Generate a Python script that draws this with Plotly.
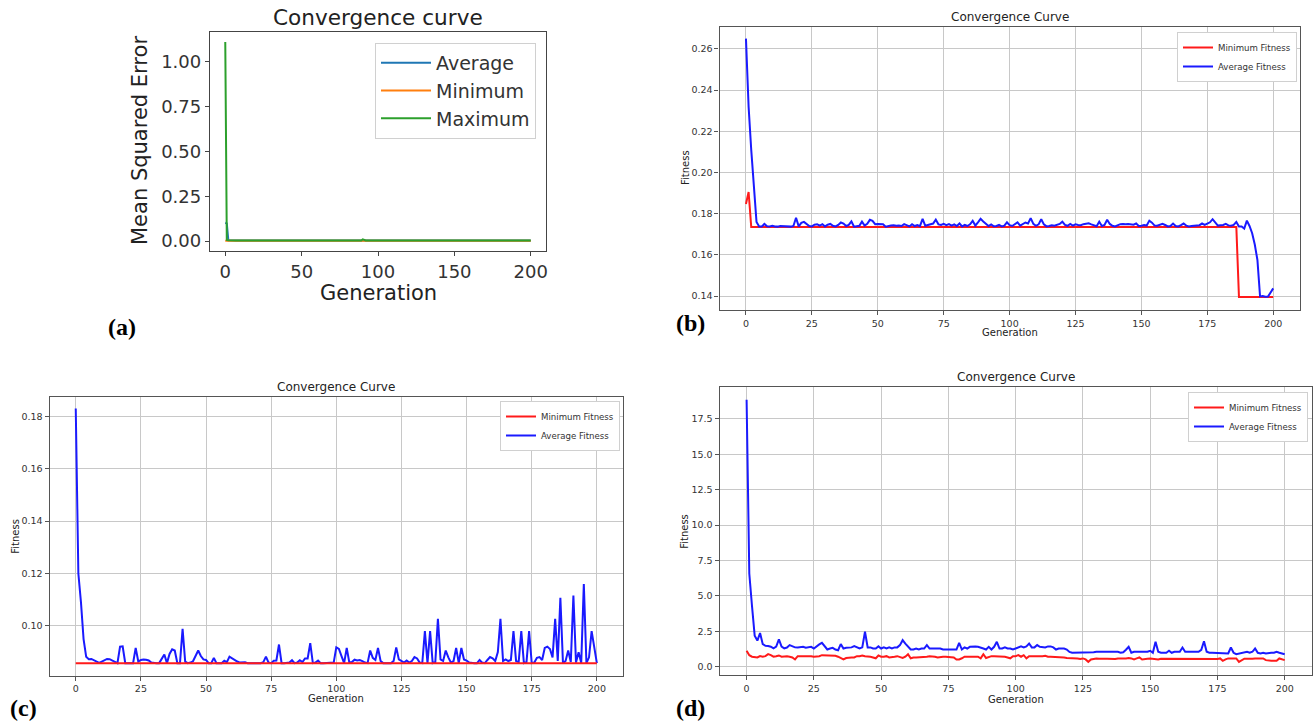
import plotly.graph_objects as go

W, H = 1314, 722
generations = list(range(201))

# ---------------- panel (a) : MSE convergence ----------------
a_avg = [
    0.102, 0.098, 0.004, 0.003, 0.003, 0.003, 0.003, 0.003, 0.003, 0.003,
    0.003, 0.003, 0.003, 0.003, 0.003, 0.003, 0.003, 0.003, 0.003, 0.003,
    0.003, 0.003, 0.003, 0.003, 0.003, 0.003, 0.003, 0.003, 0.003, 0.003,
    0.003, 0.003, 0.003, 0.003, 0.003, 0.003, 0.003, 0.003, 0.003, 0.003,
    0.003, 0.003, 0.003, 0.003, 0.003, 0.003, 0.003, 0.003, 0.003, 0.003,
    0.003, 0.003, 0.003, 0.003, 0.003, 0.003, 0.003, 0.003, 0.003, 0.003,
    0.003, 0.003, 0.003, 0.003, 0.003, 0.003, 0.003, 0.003, 0.003, 0.003,
    0.003, 0.003, 0.003, 0.003, 0.003, 0.003, 0.003, 0.003, 0.003, 0.003,
    0.003, 0.003, 0.003, 0.003, 0.003, 0.003, 0.003, 0.003, 0.003, 0.003,
    0.004, 0.003, 0.003, 0.003, 0.003, 0.003, 0.003, 0.003, 0.003, 0.004,
    0.003, 0.003, 0.003, 0.003, 0.003, 0.003, 0.003, 0.003, 0.003, 0.003,
    0.003, 0.003, 0.003, 0.003, 0.003, 0.003, 0.003, 0.003, 0.003, 0.003,
    0.003, 0.003, 0.003, 0.003, 0.003, 0.003, 0.003, 0.003, 0.003, 0.003,
    0.003, 0.003, 0.003, 0.003, 0.003, 0.003, 0.003, 0.003, 0.003, 0.003,
    0.003, 0.003, 0.003, 0.003, 0.003, 0.003, 0.003, 0.003, 0.003, 0.003,
    0.003, 0.003, 0.003, 0.003, 0.003, 0.003, 0.003, 0.003, 0.003, 0.003,
    0.003, 0.003, 0.003, 0.003, 0.003, 0.003, 0.003, 0.003, 0.003, 0.003,
    0.003, 0.003, 0.003, 0.003, 0.003, 0.003, 0.003, 0.003, 0.003, 0.003,
    0.003, 0.003, 0.003, 0.003, 0.003, 0.003, 0.003, 0.003, 0.003, 0.003,
    0.003, 0.003, 0.003, 0.003, 0.003, 0.003, 0.003, 0.003, 0.003, 0.003,
    0.003,
]
a_min = [
    0.001, 0.001, 0.001, 0.001, 0.001, 0.001, 0.001, 0.001, 0.001, 0.001,
    0.001, 0.001, 0.001, 0.001, 0.001, 0.001, 0.001, 0.001, 0.001, 0.001,
    0.001, 0.001, 0.001, 0.001, 0.001, 0.001, 0.001, 0.001, 0.001, 0.001,
    0.001, 0.001, 0.001, 0.001, 0.001, 0.001, 0.001, 0.001, 0.001, 0.001,
    0.001, 0.001, 0.001, 0.001, 0.001, 0.001, 0.001, 0.001, 0.001, 0.001,
    0.001, 0.001, 0.001, 0.001, 0.001, 0.001, 0.001, 0.001, 0.001, 0.001,
    0.001, 0.001, 0.001, 0.001, 0.001, 0.001, 0.001, 0.001, 0.001, 0.001,
    0.001, 0.001, 0.001, 0.001, 0.001, 0.001, 0.001, 0.001, 0.001, 0.001,
    0.001, 0.001, 0.001, 0.001, 0.001, 0.001, 0.001, 0.001, 0.001, 0.001,
    0.001, 0.001, 0.001, 0.001, 0.001, 0.001, 0.001, 0.001, 0.001, 0.001,
    0.001, 0.001, 0.001, 0.001, 0.001, 0.001, 0.001, 0.001, 0.001, 0.001,
    0.001, 0.001, 0.001, 0.001, 0.001, 0.001, 0.001, 0.001, 0.001, 0.001,
    0.001, 0.001, 0.001, 0.001, 0.001, 0.001, 0.001, 0.001, 0.001, 0.001,
    0.001, 0.001, 0.001, 0.001, 0.001, 0.001, 0.001, 0.001, 0.001, 0.001,
    0.001, 0.001, 0.001, 0.001, 0.001, 0.001, 0.001, 0.001, 0.001, 0.001,
    0.001, 0.001, 0.001, 0.001, 0.001, 0.001, 0.001, 0.001, 0.001, 0.001,
    0.001, 0.001, 0.001, 0.001, 0.001, 0.001, 0.001, 0.001, 0.001, 0.001,
    0.001, 0.001, 0.001, 0.001, 0.001, 0.001, 0.001, 0.001, 0.001, 0.001,
    0.001, 0.001, 0.001, 0.001, 0.001, 0.001, 0.001, 0.001, 0.001, 0.001,
    0.001, 0.001, 0.001, 0.001, 0.001, 0.001, 0.001, 0.001, 0.001, 0.001,
    0.001,
]
a_max = [
    1.110, 0.006, 0.004, 0.003, 0.003, 0.003, 0.003, 0.003, 0.003, 0.003,
    0.003, 0.003, 0.003, 0.003, 0.003, 0.003, 0.003, 0.003, 0.003, 0.003,
    0.003, 0.003, 0.003, 0.003, 0.003, 0.003, 0.003, 0.003, 0.003, 0.003,
    0.003, 0.003, 0.003, 0.003, 0.003, 0.003, 0.003, 0.003, 0.003, 0.003,
    0.003, 0.003, 0.003, 0.003, 0.003, 0.003, 0.003, 0.003, 0.003, 0.003,
    0.003, 0.003, 0.003, 0.003, 0.003, 0.003, 0.003, 0.003, 0.003, 0.003,
    0.003, 0.003, 0.003, 0.003, 0.003, 0.003, 0.003, 0.003, 0.003, 0.003,
    0.003, 0.003, 0.003, 0.003, 0.003, 0.003, 0.003, 0.003, 0.003, 0.003,
    0.003, 0.003, 0.003, 0.003, 0.003, 0.003, 0.003, 0.003, 0.003, 0.003,
    0.009, 0.004, 0.003, 0.003, 0.003, 0.003, 0.003, 0.003, 0.003, 0.007,
    0.003, 0.003, 0.003, 0.003, 0.003, 0.003, 0.003, 0.003, 0.003, 0.003,
    0.003, 0.003, 0.003, 0.003, 0.003, 0.003, 0.003, 0.003, 0.003, 0.003,
    0.003, 0.003, 0.003, 0.003, 0.003, 0.003, 0.003, 0.003, 0.003, 0.003,
    0.003, 0.003, 0.003, 0.003, 0.003, 0.003, 0.003, 0.003, 0.003, 0.003,
    0.003, 0.003, 0.003, 0.003, 0.003, 0.003, 0.003, 0.003, 0.003, 0.003,
    0.003, 0.003, 0.003, 0.003, 0.003, 0.003, 0.003, 0.003, 0.003, 0.003,
    0.003, 0.003, 0.003, 0.003, 0.003, 0.003, 0.003, 0.003, 0.003, 0.003,
    0.003, 0.003, 0.003, 0.003, 0.003, 0.003, 0.003, 0.003, 0.003, 0.003,
    0.003, 0.003, 0.003, 0.003, 0.003, 0.003, 0.003, 0.003, 0.003, 0.003,
    0.003, 0.003, 0.003, 0.003, 0.003, 0.003, 0.003, 0.003, 0.003, 0.003,
    0.003,
]

# ---------------- panel (b) ----------------
b_min = [
    0.1847, 0.1905, 0.1735, 0.1735, 0.1735, 0.1735, 0.1735, 0.1735, 0.1735, 0.1735,
    0.1735, 0.1735, 0.1735, 0.1735, 0.1735, 0.1735, 0.1735, 0.1735, 0.1735, 0.1735,
    0.1735, 0.1735, 0.1735, 0.1735, 0.1735, 0.1735, 0.1735, 0.1735, 0.1735, 0.1735,
    0.1735, 0.1735, 0.1735, 0.1735, 0.1735, 0.1735, 0.1735, 0.1735, 0.1735, 0.1735,
    0.1735, 0.1735, 0.1735, 0.1735, 0.1735, 0.1735, 0.1735, 0.1735, 0.1735, 0.1735,
    0.1735, 0.1735, 0.1735, 0.1735, 0.1735, 0.1735, 0.1735, 0.1735, 0.1735, 0.1735,
    0.1735, 0.1735, 0.1735, 0.1735, 0.1735, 0.1735, 0.1735, 0.1735, 0.1735, 0.1735,
    0.1735, 0.1735, 0.1735, 0.1735, 0.1735, 0.1735, 0.1735, 0.1735, 0.1735, 0.1735,
    0.1735, 0.1735, 0.1735, 0.1735, 0.1735, 0.1735, 0.1735, 0.1735, 0.1735, 0.1735,
    0.1735, 0.1735, 0.1735, 0.1735, 0.1735, 0.1735, 0.1735, 0.1735, 0.1735, 0.1735,
    0.1735, 0.1735, 0.1735, 0.1735, 0.1735, 0.1735, 0.1735, 0.1735, 0.1735, 0.1735,
    0.1735, 0.1735, 0.1735, 0.1735, 0.1735, 0.1735, 0.1735, 0.1735, 0.1735, 0.1735,
    0.1735, 0.1735, 0.1735, 0.1735, 0.1735, 0.1735, 0.1735, 0.1735, 0.1735, 0.1735,
    0.1735, 0.1735, 0.1735, 0.1735, 0.1735, 0.1735, 0.1735, 0.1735, 0.1735, 0.1735,
    0.1735, 0.1735, 0.1735, 0.1735, 0.1735, 0.1735, 0.1735, 0.1735, 0.1735, 0.1735,
    0.1735, 0.1735, 0.1735, 0.1735, 0.1735, 0.1735, 0.1735, 0.1735, 0.1735, 0.1735,
    0.1735, 0.1735, 0.1735, 0.1735, 0.1735, 0.1735, 0.1735, 0.1735, 0.1735, 0.1735,
    0.1735, 0.1735, 0.1735, 0.1735, 0.1735, 0.1735, 0.1735, 0.1735, 0.1735, 0.1735,
    0.1735, 0.1735, 0.1735, 0.1735, 0.1735, 0.1735, 0.1735, 0.1395, 0.1395, 0.1395,
    0.1395, 0.1395, 0.1395, 0.1395, 0.1395, 0.1395, 0.1395, 0.1395, 0.1395, 0.1395,
    0.1395,
]
b_avg = [
    0.2650, 0.2320, 0.2110, 0.1920, 0.1760, 0.1738, 0.1738, 0.1750, 0.1739, 0.1738,
    0.1741, 0.1738, 0.1737, 0.1740, 0.1739, 0.1741, 0.1738, 0.1737, 0.1740, 0.1780,
    0.1738, 0.1755, 0.1760, 0.1752, 0.1740, 0.1738, 0.1746, 0.1748, 0.1742, 0.1749,
    0.1738, 0.1746, 0.1750, 0.1741, 0.1738, 0.1745, 0.1757, 0.1752, 0.1740, 0.1745,
    0.1762, 0.1737, 0.1738, 0.1741, 0.1761, 0.1742, 0.1751, 0.1770, 0.1765, 0.1749,
    0.1750, 0.1748, 0.1749, 0.1737, 0.1738, 0.1742, 0.1744, 0.1741, 0.1742, 0.1740,
    0.1749, 0.1745, 0.1738, 0.1749, 0.1740, 0.1745, 0.1739, 0.1775, 0.1741, 0.1745,
    0.1748, 0.1752, 0.1771, 0.1748, 0.1745, 0.1750, 0.1744, 0.1749, 0.1742, 0.1748,
    0.1740, 0.1752, 0.1738, 0.1745, 0.1740, 0.1748, 0.1765, 0.1742, 0.1758, 0.1775,
    0.1762, 0.1749, 0.1740, 0.1748, 0.1739, 0.1740, 0.1745, 0.1738, 0.1742, 0.1758,
    0.1744, 0.1740, 0.1750, 0.1758, 0.1742, 0.1748, 0.1757, 0.1752, 0.1778, 0.1750,
    0.1741, 0.1748, 0.1773, 0.1748, 0.1738, 0.1740, 0.1743, 0.1741, 0.1745, 0.1750,
    0.1761, 0.1745, 0.1741, 0.1750, 0.1742, 0.1748, 0.1745, 0.1744, 0.1749, 0.1750,
    0.1753, 0.1748, 0.1742, 0.1739, 0.1761, 0.1740, 0.1745, 0.1770, 0.1750, 0.1741,
    0.1738, 0.1745, 0.1749, 0.1750, 0.1748, 0.1750, 0.1747, 0.1746, 0.1752, 0.1740,
    0.1741, 0.1745, 0.1742, 0.1766, 0.1756, 0.1742, 0.1741, 0.1745, 0.1751, 0.1745,
    0.1738, 0.1740, 0.1752, 0.1740, 0.1738, 0.1744, 0.1752, 0.1742, 0.1738, 0.1740,
    0.1741, 0.1740, 0.1744, 0.1752, 0.1745, 0.1752, 0.1758, 0.1773, 0.1755, 0.1742,
    0.1744, 0.1745, 0.1750, 0.1743, 0.1741, 0.1745, 0.1760, 0.1738, 0.1738, 0.1728,
    0.1766, 0.1740, 0.1705, 0.1650, 0.1575, 0.1398, 0.1400, 0.1396, 0.1397, 0.1418,
    0.1437,
]

# ---------------- panel (c) ----------------
c_min = [
    0.0858, 0.0858, 0.0858, 0.0858, 0.0858, 0.0858, 0.0858, 0.0858, 0.0858, 0.0858,
    0.0858, 0.0858, 0.0858, 0.0858, 0.0858, 0.0858, 0.0858, 0.0858, 0.0858, 0.0858,
    0.0858, 0.0858, 0.0858, 0.0858, 0.0858, 0.0858, 0.0858, 0.0858, 0.0858, 0.0858,
    0.0858, 0.0858, 0.0858, 0.0858, 0.0858, 0.0858, 0.0858, 0.0858, 0.0858, 0.0858,
    0.0858, 0.0858, 0.0858, 0.0858, 0.0858, 0.0858, 0.0858, 0.0858, 0.0858, 0.0858,
    0.0858, 0.0858, 0.0858, 0.0858, 0.0858, 0.0858, 0.0858, 0.0858, 0.0858, 0.0858,
    0.0858, 0.0858, 0.0858, 0.0858, 0.0858, 0.0858, 0.0858, 0.0858, 0.0858, 0.0858,
    0.0858, 0.0858, 0.0858, 0.0858, 0.0858, 0.0858, 0.0858, 0.0858, 0.0858, 0.0858,
    0.0858, 0.0858, 0.0858, 0.0858, 0.0858, 0.0858, 0.0858, 0.0858, 0.0858, 0.0858,
    0.0858, 0.0858, 0.0858, 0.0858, 0.0858, 0.0858, 0.0858, 0.0858, 0.0858, 0.0858,
    0.0858, 0.0858, 0.0858, 0.0858, 0.0858, 0.0858, 0.0858, 0.0858, 0.0858, 0.0858,
    0.0858, 0.0858, 0.0858, 0.0858, 0.0858, 0.0858, 0.0858, 0.0858, 0.0858, 0.0858,
    0.0858, 0.0858, 0.0858, 0.0858, 0.0858, 0.0858, 0.0858, 0.0858, 0.0858, 0.0858,
    0.0858, 0.0858, 0.0858, 0.0858, 0.0858, 0.0858, 0.0858, 0.0858, 0.0858, 0.0858,
    0.0858, 0.0858, 0.0858, 0.0858, 0.0858, 0.0858, 0.0858, 0.0858, 0.0858, 0.0858,
    0.0858, 0.0858, 0.0858, 0.0858, 0.0858, 0.0858, 0.0858, 0.0858, 0.0858, 0.0858,
    0.0858, 0.0858, 0.0858, 0.0858, 0.0858, 0.0858, 0.0858, 0.0858, 0.0858, 0.0858,
    0.0858, 0.0858, 0.0858, 0.0858, 0.0858, 0.0858, 0.0858, 0.0858, 0.0858, 0.0858,
    0.0858, 0.0858, 0.0858, 0.0858, 0.0858, 0.0858, 0.0858, 0.0858, 0.0858, 0.0858,
    0.0858, 0.0858, 0.0858, 0.0858, 0.0858, 0.0858, 0.0858, 0.0858, 0.0858, 0.0858,
    0.0858,
]
c_avg = [
    0.1830, 0.1200, 0.1090, 0.0950, 0.0882, 0.0873, 0.0874, 0.0868, 0.0862, 0.0859,
    0.0864, 0.0870, 0.0874, 0.0873, 0.0868, 0.0860, 0.0858, 0.0921, 0.0922, 0.0858,
    0.0858, 0.0858, 0.0858, 0.0916, 0.0864, 0.0870, 0.0872, 0.0871, 0.0868, 0.0860,
    0.0858, 0.0858, 0.0858, 0.0873, 0.0891, 0.0858, 0.0893, 0.0911, 0.0906, 0.0858,
    0.0858, 0.0989, 0.0864, 0.0858, 0.0860, 0.0865, 0.0887, 0.0906, 0.0885, 0.0872,
    0.0870, 0.0858, 0.0858, 0.0878, 0.0858, 0.0858, 0.0858, 0.0867, 0.0862, 0.0883,
    0.0876, 0.0870, 0.0864, 0.0860, 0.0861, 0.0861, 0.0858, 0.0858, 0.0858, 0.0858,
    0.0858, 0.0858, 0.0862, 0.0883, 0.0860, 0.0858, 0.0867, 0.0868, 0.0929, 0.0858,
    0.0858, 0.0858, 0.0860, 0.0869, 0.0858, 0.0860, 0.0869, 0.0862, 0.0876, 0.0876,
    0.0934, 0.0858, 0.0860, 0.0868, 0.0858, 0.0858, 0.0858, 0.0858, 0.0858, 0.0860,
    0.0918, 0.0912, 0.0885, 0.0858, 0.0916, 0.0860, 0.0862, 0.0871, 0.0868, 0.0870,
    0.0866, 0.0860, 0.0858, 0.0906, 0.0878, 0.0870, 0.0916, 0.0866, 0.0858, 0.0858,
    0.0860, 0.0858, 0.0866, 0.0918, 0.0872, 0.0866, 0.0860, 0.0868, 0.0860, 0.0866,
    0.0881, 0.0876, 0.0860, 0.0858, 0.0980, 0.0858, 0.0980, 0.0858, 0.0862, 0.1027,
    0.0872, 0.0866, 0.0906, 0.0880, 0.0860, 0.0866, 0.0916, 0.0858, 0.0916, 0.0872,
    0.0868, 0.0860, 0.0858, 0.0858, 0.0858, 0.0870, 0.0860, 0.0858, 0.0870, 0.0881,
    0.0876, 0.0866, 0.0900, 0.1027, 0.0866, 0.0872, 0.0866, 0.0870, 0.0980, 0.0866,
    0.0862, 0.0980, 0.0858, 0.0862, 0.0980, 0.0858, 0.0860, 0.0878, 0.0881, 0.0870,
    0.0916, 0.0921, 0.0912, 0.0880, 0.1027, 0.0866, 0.1107, 0.0858, 0.0866, 0.0906,
    0.0862, 0.1116, 0.0860, 0.0900, 0.0858, 0.1160, 0.0858, 0.0880, 0.0980, 0.0920,
    0.0858,
]

# ---------------- panel (d) ----------------
d_min = [
    1.13, 0.82, 0.71, 0.71, 0.66, 0.76, 0.71, 0.75, 0.89, 0.82,
    0.71, 0.75, 0.80, 0.71, 0.75, 0.75, 0.71, 0.66, 0.52, 0.75,
    0.75, 0.75, 0.78, 0.75, 0.75, 0.71, 0.71, 0.75, 0.82, 0.82,
    0.82, 0.82, 0.82, 0.78, 0.71, 0.60, 0.52, 0.62, 0.66, 0.66,
    0.66, 0.75, 0.75, 0.80, 0.75, 0.75, 0.71, 0.66, 0.60, 0.80,
    0.71, 0.71, 0.75, 0.66, 0.71, 0.71, 0.75, 0.66, 0.62, 0.71,
    0.89, 0.60, 0.66, 0.66, 0.66, 0.66, 0.66, 0.71, 0.75, 0.75,
    0.71, 0.66, 0.71, 0.71, 0.71, 0.71, 0.71, 0.66, 0.52, 0.52,
    0.60, 0.71, 0.71, 0.71, 0.71, 0.66, 0.71, 0.60, 0.89, 0.62,
    0.71, 0.75, 0.75, 0.75, 0.75, 0.75, 0.71, 0.66, 0.60, 0.75,
    0.75, 0.82, 0.71, 0.82, 0.60, 0.75, 0.75, 0.75, 0.71, 0.75,
    0.75, 0.78, 0.71, 0.71, 0.71, 0.71, 0.71, 0.71, 0.66, 0.62,
    0.62, 0.62, 0.59, 0.59, 0.55, 0.59, 0.52, 0.35, 0.52, 0.57,
    0.59, 0.57, 0.59, 0.57, 0.57, 0.57, 0.52, 0.55, 0.59, 0.57,
    0.59, 0.59, 0.62, 0.59, 0.52, 0.59, 0.66, 0.52, 0.57, 0.57,
    0.59, 0.57, 0.52, 0.52, 0.57, 0.57, 0.52, 0.52, 0.52, 0.52,
    0.55, 0.52, 0.52, 0.52, 0.52, 0.52, 0.52, 0.52, 0.52, 0.52,
    0.52, 0.52, 0.52, 0.55, 0.52, 0.55, 0.59, 0.42, 0.52, 0.59,
    0.59, 0.57, 0.59, 0.35, 0.47, 0.57, 0.57, 0.55, 0.57, 0.59,
    0.59, 0.57, 0.59, 0.47, 0.42, 0.42, 0.42, 0.42, 0.59, 0.52,
    0.47,
]
d_avg = [
    18.84, 6.58, 4.30, 2.20, 1.85, 2.38, 1.60, 1.48, 1.47, 1.42,
    1.30, 1.42, 1.93, 1.42, 1.30, 1.36, 1.53, 1.45, 1.37, 1.36,
    1.37, 1.41, 1.34, 1.37, 1.41, 1.29, 1.45, 1.58, 1.69, 1.41,
    1.22, 1.29, 1.34, 1.22, 1.17, 1.60, 1.29, 1.34, 1.34, 1.37,
    1.46, 1.37, 1.29, 1.37, 2.47, 1.37, 1.37, 1.29, 1.29, 1.44,
    1.29, 1.37, 1.29, 1.37, 1.29, 1.37, 1.37, 1.53, 1.88, 1.64,
    1.44, 1.22, 1.22, 1.29, 1.22, 1.29, 1.29, 1.53, 1.29, 1.29,
    1.29, 1.29, 1.29, 1.22, 1.22, 1.22, 1.22, 1.22, 1.22, 1.69,
    1.22, 1.37, 1.29, 1.41, 1.44, 1.44, 1.41, 1.37, 1.29, 1.22,
    1.41, 1.22, 1.41, 1.76, 1.29, 1.29, 1.37, 1.29, 1.29, 1.22,
    1.29, 1.37, 1.44, 1.37, 1.44, 1.64, 1.37, 1.37, 1.53, 1.41,
    1.41, 1.37, 1.44, 1.44, 1.37, 1.22, 1.29, 1.29, 1.29, 1.22,
    1.05, 0.99, 0.99, 0.99, 0.99, 0.99, 0.99, 1.00, 1.02, 1.02,
    1.06, 1.06, 1.06, 1.08, 1.06, 1.06, 1.10, 1.08, 1.06, 1.00,
    1.02, 1.20, 1.41, 0.99, 1.06, 1.06, 1.06, 1.06, 1.06, 1.06,
    1.13, 0.99, 1.76, 1.06, 0.99, 0.99, 0.99, 1.13, 0.99, 1.06,
    1.06, 1.06, 1.36, 1.06, 1.06, 1.06, 1.06, 1.06, 1.06, 1.20,
    1.80, 1.06, 0.99, 0.99, 0.99, 0.99, 0.99, 0.99, 0.99, 0.94,
    1.36, 0.99, 0.89, 0.94, 0.99, 1.06, 1.06, 0.99, 1.06, 1.29,
    0.99, 0.94, 0.99, 0.94, 0.99, 0.99, 0.99, 1.06, 0.99, 0.94,
    0.89,
]

# tick labels
a_xticks = [0, 50, 100, 150, 200]
a_yticks = [0.0, 0.25, 0.5, 0.75, 1.0]
bcd_xticks = [0, 25, 50, 75, 100, 125, 150, 175, 200]
b_yticks = [0.14, 0.16, 0.18, 0.20, 0.22, 0.24, 0.26]
c_yticks = [0.10, 0.12, 0.14, 0.16, 0.18]
d_yticks = [0.0, 2.5, 5.0, 7.5, 10.0, 12.5, 15.0, 17.5]

FONT = "DejaVu Sans, Verdana, sans-serif"
SERIF = "Liberation Serif, Times New Roman, serif"


def fx(p):
    return p / W


def fy(p):
    return 1 - p / H


fig = go.Figure()

# panel (a)
fig.add_trace(go.Scatter(x=generations, y=a_avg, name="Average", mode="lines",
                         line=dict(color="#1f77b4", width=2), xaxis="x", yaxis="y", legend="legend"))
fig.add_trace(go.Scatter(x=generations, y=a_min, name="Minimum", mode="lines",
                         line=dict(color="#ff7f0e", width=2), xaxis="x", yaxis="y", legend="legend"))
fig.add_trace(go.Scatter(x=generations, y=a_max, name="Maximum", mode="lines",
                         line=dict(color="#2ca02c", width=2), xaxis="x", yaxis="y", legend="legend"))
# panel (b)
fig.add_trace(go.Scatter(x=generations, y=b_min, name="Minimum Fitness", mode="lines",
                         line=dict(color="#ff1a1a", width=2), xaxis="x2", yaxis="y2", legend="legend2"))
fig.add_trace(go.Scatter(x=generations, y=b_avg, name="Average Fitness", mode="lines",
                         line=dict(color="#1a1aff", width=2), xaxis="x2", yaxis="y2", legend="legend2"))
# panel (c)  (average drawn first so the flat minimum stays visible)
fig.add_trace(go.Scatter(x=generations, y=c_avg, name="Average Fitness", mode="lines",
                         line=dict(color="#1a1aff", width=2), xaxis="x3", yaxis="y3", legend="legend3",
                         legendrank=2))
fig.add_trace(go.Scatter(x=generations, y=c_min, name="Minimum Fitness", mode="lines",
                         line=dict(color="#ff1a1a", width=2), xaxis="x3", yaxis="y3", legend="legend3",
                         legendrank=1))
# panel (d)
fig.add_trace(go.Scatter(x=generations, y=d_min, name="Minimum Fitness", mode="lines",
                         line=dict(color="#ff1a1a", width=2), xaxis="x4", yaxis="y4", legend="legend4"))
fig.add_trace(go.Scatter(x=generations, y=d_avg, name="Average Fitness", mode="lines",
                         line=dict(color="#1a1aff", width=2), xaxis="x4", yaxis="y4", legend="legend4"))


def axis(domain, rng, ticks, fmt, size, grid, anchor, linecolor):
    return dict(domain=domain, range=rng, tickvals=ticks, tickformat=fmt, anchor=anchor,
                showgrid=grid, gridcolor="#c8c8c8", gridwidth=1.2, zeroline=False,
                showline=True, mirror=True, linecolor=linecolor, linewidth=1.3,
                ticks="outside", ticklen=4, tickwidth=1, tickcolor=linecolor,
                tickfont=dict(family=FONT, size=size, color="#333333"))


layout = dict(
    template="none",
    width=W, height=H, autosize=False,
    margin=dict(l=0, r=0, t=0, b=0, pad=0),
    paper_bgcolor="white", plot_bgcolor="white",
    xaxis=axis([fx(210), fx(546)], [-10, 210], a_xticks, "d", 18, False, "y", "#444444"),
    yaxis=axis([fy(251), fy(32)], [-0.0555, 1.1655], a_yticks, ".2f", 18, False, "x", "#444444"),
    xaxis2=axis([fx(719.6), fx(1299.6)], [-10, 210], bcd_xticks, "d", 9.5, True, "y2", "#555555"),
    yaxis2=axis([fy(310), fy(26.7)], [0.1332, 0.2708], b_yticks, ".2f", 9.5, True, "x2", "#555555"),
    xaxis3=axis([fx(49.7), fx(622.9)], [-10, 210], bcd_xticks, "d", 9.5, True, "y3", "#555555"),
    yaxis3=axis([fy(675.7), fy(396.7)], [0.0810, 0.1875], c_yticks, ".2f", 9.5, True, "x3", "#555555"),
    xaxis4=axis([fx(719.7), fx(1311.6)], [-10, 210], bcd_xticks, "d", 9.5, True, "y4", "#555555"),
    yaxis4=axis([fy(675.3), fy(387.3)], [-0.60, 19.72], d_yticks, ".1f", 9.5, True, "x4", "#555555"),
    legend=dict(x=fx(536), y=fy(43), xanchor="right", yanchor="top",
                font=dict(family=FONT, size=19, color="#333333"), itemwidth=50,
                bgcolor="white", bordercolor="#d0d0d0", borderwidth=1),
    legend2=dict(x=fx(1297), y=fy(32), xanchor="right", yanchor="top",
                 font=dict(family=FONT, size=8.6, color="#333333"), itemwidth=30,
                 bgcolor="white", bordercolor="#d0d0d0", borderwidth=1),
    legend3=dict(x=fx(620), y=fy(401), xanchor="right", yanchor="top",
                 font=dict(family=FONT, size=8.6, color="#333333"), itemwidth=30,
                 bgcolor="white", bordercolor="#d0d0d0", borderwidth=1),
    legend4=dict(x=fx(1308), y=fy(392), xanchor="right", yanchor="top",
                 font=dict(family=FONT, size=8.6, color="#333333"), itemwidth=30,
                 bgcolor="white", bordercolor="#d0d0d0", borderwidth=1),
)


def text(s, x, y, size, family=FONT, angle=0, color="#222222", bold=False):
    return dict(text=("<b>%s</b>" % s) if bold else s, x=fx(x), y=fy(y), xref="paper", yref="paper",
                xanchor="center", yanchor="middle", showarrow=False, textangle=angle,
                font=dict(family=family, size=size, color=color))


annotations = [
    # panel (a)
    text("Convergence curve", 378, 18, 21.6),
    text("Generation", 378, 293, 21),
    text("Mean Squared Error", 140, 141, 21, angle=-90),
    text("(a)", 122, 327, 24, family=SERIF, color="black", bold=True),
    # panel (b)
    text("Convergence Curve", 1009.6, 17, 12),
    text("Generation", 1009.6, 332, 10),
    text("Fitness", 685, 168, 10, angle=-90),
    text("(b)", 690, 323, 24, family=SERIF, color="black", bold=True),
    # panel (c)
    text("Convergence Curve", 336.3, 387, 12),
    text("Generation", 336.3, 698, 10),
    text("Fitness", 14.7, 536, 10, angle=-90),
    text("(c)", 23, 708, 24, family=SERIF, color="black", bold=True),
    # panel (d)
    text("Convergence Curve", 1015.6, 377, 12),
    text("Generation", 1015.6, 699, 10),
    text("Fitness", 683.8, 531, 10, angle=-90),
    text("(d)", 690, 708, 24, family=SERIF, color="black", bold=True),
]
layout["annotations"] = annotations

fig.update_layout(**layout)
fig.write_html("out.html", config={"displayModeBar": False},
               post_script="document.body.style.margin='0';document.body.style.overflow='hidden';")
